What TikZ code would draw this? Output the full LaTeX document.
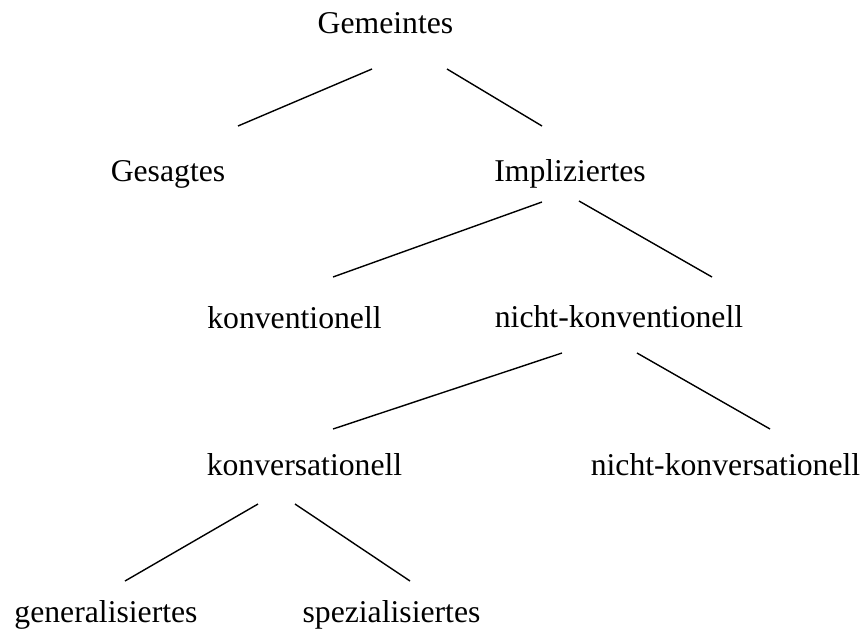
\documentclass[tikz,border=0pt]{standalone}
\usepackage{fontspec}
\setmainfont{Liberation Serif}
\begin{document}
\begin{tikzpicture}[x=1pt,y=-1pt,
  lbl/.style={inner sep=0pt,anchor=base,font=\fontsize{31.7}{38}\selectfont},
  edge/.style={line width=1.4pt,line cap=butt}]
\useasboundingbox (0,0) rectangle (865,629);
\node[lbl] (gem) at (385.5,33) {Gemeintes};
\node[lbl] (ges) at (168,181) {Gesagtes};
\node[lbl] (imp) at (570,181.5) {Impliziertes};
\node[lbl] (kon) at (294.5,328) {konventionell};
\node[lbl] (nkon) at (619,327.5) {nicht-konventionell};
\node[lbl] (kvs) at (304.5,475) {konversationell};
\node[lbl] (nkvs) at (725.5,475) {nicht-konversationell};
\node[lbl] (gen) at (106,622) {generalisiertes};
\node[lbl] (spe) at (391.5,622) {spezialisiertes};
% connector end points
\coordinate (gemL) at (372,69);   \coordinate (gesT) at (238,126);
\coordinate (gemR) at (447,69);   \coordinate (impT) at (542,126);
\coordinate (impL) at (542,202);  \coordinate (konT) at (333,277);
\coordinate (impR) at (579,201);  \coordinate (nkonT) at (712,277);
\coordinate (nkonL) at (562,353); \coordinate (kvsT) at (333,429);
\coordinate (nkonR) at (637,353); \coordinate (nkvsT) at (770,429);
\coordinate (kvsL) at (258,504);  \coordinate (genT) at (125,581);
\coordinate (kvsR) at (295,504);  \coordinate (speT) at (410,581);
\draw[edge] (gemL) -- (gesT);
\draw[edge] (gemR) -- (impT);
\draw[edge] (impL) -- (konT);
\draw[edge] (impR) -- (nkonT);
\draw[edge] (nkonL) -- (kvsT);
\draw[edge] (nkonR) -- (nkvsT);
\draw[edge] (kvsL) -- (genT);
\draw[edge] (kvsR) -- (speT);
\end{tikzpicture}
\end{document}
